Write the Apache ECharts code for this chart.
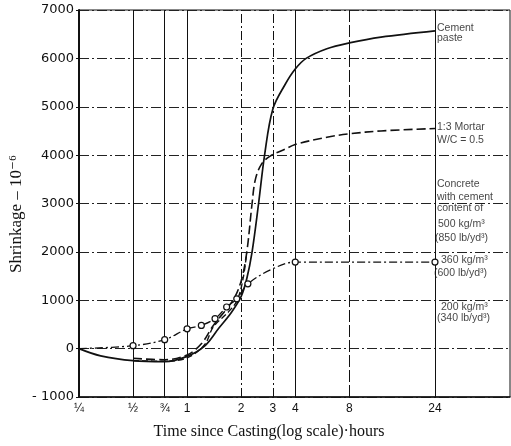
<!DOCTYPE html>
<html>
<head>
<meta charset="utf-8">
<script src="https://cdn.jsdelivr.net/npm/echarts@6/dist/echarts.min.js"></script>
<style>
  html, body { margin: 0; padding: 0; background: #fff; }
  #chart { width: 511px; height: 446px; }
</style>
</head>
<body>
<div id="chart"></div>
<script>
// ---- Data ----
const tickHours  = [0.25, 0.5, 0.75, 1, 2, 3, 4, 8, 24];
const tickLabels = ['¼', '½', '¾', '1', '2', '3', '4', '8', '24'];
const tickStyles = ['solid', 'solid', 'solid', 'solid', 'dashdot', 'dashdot', 'solid', 'dash', 'solid'];

const pasteHours = [0.25, 0.33, 0.5, 0.75, 1, 1.25, 1.5, 1.75, 2, 2.15, 2.3, 2.5, 2.7, 3, 3.5, 4, 4.6, 6, 8, 12, 24];
const pasteShrink = [0, -150, -250, -270, -160, 50, 420, 730, 1080, 1450, 2000, 3000, 4000, 4950, 5450, 5780, 6000, 6200, 6320, 6440, 6570];

const mortarHours = [0.5, 0.75, 1, 1.2, 1.4, 1.8, 2, 2.15, 2.3, 2.4, 2.6, 2.9, 3.5, 4, 6, 8, 12, 24];
const mortarShrink = [-200, -230, -130, 100, 480, 1000, 1400, 2000, 3000, 3500, 3820, 3980, 4120, 4220, 4370, 4440, 4500, 4550];

const conc500Hours = [0.5, 0.75, 1, 1.25, 1.4, 1.7, 1.9, 2.05, 2.15];
const conc500Shrink = [-250, -260, -190, 80, 450, 760, 1000, 1450, 2000];

const conc360Hours = [0.25, 0.5, 0.75, 1, 1.2, 1.43, 1.66, 1.89, 2.18, 3, 4, 24];
const conc360Shrink = [0, 60, 185, 410, 480, 620, 860, 1030, 1340, 1650, 1790, 1790];
const conc360Marked = [false, true, true, true, true, true, true, true, true, false, true, true];

const yTicks = { min: -1000, max: 7000, step: 1000 };

const rightNotes = [
  { text: 'Cement', at: 6630, dx: 0 },
  { text: 'paste', at: 6420, dx: 0 },
  { text: '1:3 Mortar', at: 4580, dx: 0 },
  { text: 'W/C = 0.5', at: 4310, dx: 0 },
  { text: 'Concrete', at: 3405, dx: 0 },
  { text: 'with cement', at: 3136, dx: 0 },
  { text: 'content of', at: 2910, dx: 0 },
  { text: '500 kg/m³', at: 2580, dx: 1 },
  { text: '(850 lb/yd³)', at: 2290, dx: -2 },
  { text: '360 kg/m³', at: 1835, dx: 4 },
  { text: '(600 lb/yd³)', at: 1566, dx: -3 },
  { text: '200 kg/m³', at: 864, dx: 4 },
  { text: '(340 lb/yd³)', at: 636, dx: 0 }
];

// ---- Build ----
const zip = (xs, ys) => xs.map((x, i) => [x, ys[i]]);
const dashTypes = { solid: 'solid', dashdot: [9, 3, 2, 3], dash: [12, 3] };

const chart = echarts.init(document.getElementById('chart'), null, { renderer: 'canvas' });

const gridLines = tickHours.map((h, i) => ({
  xAxis: h,
  lineStyle: { type: dashTypes[tickStyles[i]], color: '#111', width: i === 0 ? 0 : 1 },
  label: { formatter: tickLabels[i] }
}));

const serif = '"Liberation Serif", "DejaVu Serif", serif';
const sans = '"Liberation Sans", "DejaVu Sans", sans-serif';

const option = {
  backgroundColor: '#fff',
  animation: false,
  grid: { left: 79, top: 10, right: 1, bottom: 49, show: true, borderColor: '#111', borderWidth: 1 },
  xAxis: {
    type: 'log', logBase: 10, min: 0.25, max: 62.8,
    axisLine: { show: true, onZero: false, lineStyle: { color: '#111', width: 1.5 } },
    axisTick: { show: false }, axisLabel: { show: false }, splitLine: { show: false }, minorSplitLine: { show: false }
  },
  yAxis: {
    type: 'value', min: yTicks.min, max: yTicks.max, interval: yTicks.step,
    axisLine: { show: true, onZero: false, lineStyle: { color: '#111', width: 2 } },
    axisTick: { show: true, length: 3, lineStyle: { color: '#111' } },
    axisLabel: {
      color: '#111', fontFamily: '"DejaVu Sans", sans-serif', fontSize: 13, margin: 5,
      formatter: v => (v < 0 ? '- ' + Math.abs(v) : String(v))
    },
    splitLine: { show: true, lineStyle: { color: '#222', type: [10, 3, 2, 3], width: 1 } }
  },
  series: [
    {
      name: 'grid', type: 'line', data: [], silent: true,
      markLine: {
        silent: true, symbol: ['none', 'none'], animation: false,
        label: { show: true, position: 'start', distance: 6, color: '#111', fontFamily: sans, fontSize: 12 },
        data: gridLines
      }
    },
    {
      name: '360 kg/m3', type: 'line', smooth: 0.35, showSymbol: false,
      data: zip(conc360Hours, conc360Shrink),
      lineStyle: { color: '#111', width: 1.3, type: [8, 3, 2, 3] }, z: 4
    },
    {
      name: '360 kg/m3 points', type: 'scatter', silent: true,
      data: zip(conc360Hours, conc360Shrink).filter((p, i) => conc360Marked[i]),
      symbol: 'circle', symbolSize: 6,
      itemStyle: { color: '#fff', borderColor: '#111', borderWidth: 1.2, opacity: 1 }, z: 6
    },
    {
      name: '500 kg/m3', type: 'line', smooth: 0.35, showSymbol: false,
      data: zip(conc500Hours, conc500Shrink),
      lineStyle: { color: '#111', width: 1.4, type: [6, 3] }, z: 3
    },
    {
      name: 'Mortar', type: 'line', smooth: 0.35, showSymbol: false,
      data: zip(mortarHours, mortarShrink),
      lineStyle: { color: '#111', width: 1.6, type: [9, 4] }, z: 3
    },
    {
      name: 'Cement paste', type: 'line', smooth: 0.35, showSymbol: false,
      data: zip(pasteHours, pasteShrink),
      lineStyle: { color: '#111', width: 1.7, type: 'solid' }, z: 5
    },
    {
      name: 'notes', type: 'scatter', silent: true, symbolSize: 0,
      data: rightNotes.map(n => ({ value: [24, n.at], label: { offset: [n.dx, 0] } })),
      label: {
        show: true, position: 'right', distance: 2, color: '#111', fontFamily: sans, fontSize: 10.5,
        formatter: p => rightNotes[p.dataIndex].text
      }
    }
  ],
  graphic: [
    {
      type: 'text', x: 17, y: 214, rotation: Math.PI / 2,
      style: { text: 'Shrinkage – 10⁻⁶', font: '17px ' + serif, fill: '#111', textAlign: 'center', textVerticalAlign: 'middle' }
    },
    {
      type: 'text', x: 269, y: 432,
      style: { text: 'Time since Casting(log scale)·hours', font: '16px ' + serif, fill: '#111', textAlign: 'center', textVerticalAlign: 'middle' }
    }
  ]
};

chart.setOption(option);
</script>
</body>
</html>
